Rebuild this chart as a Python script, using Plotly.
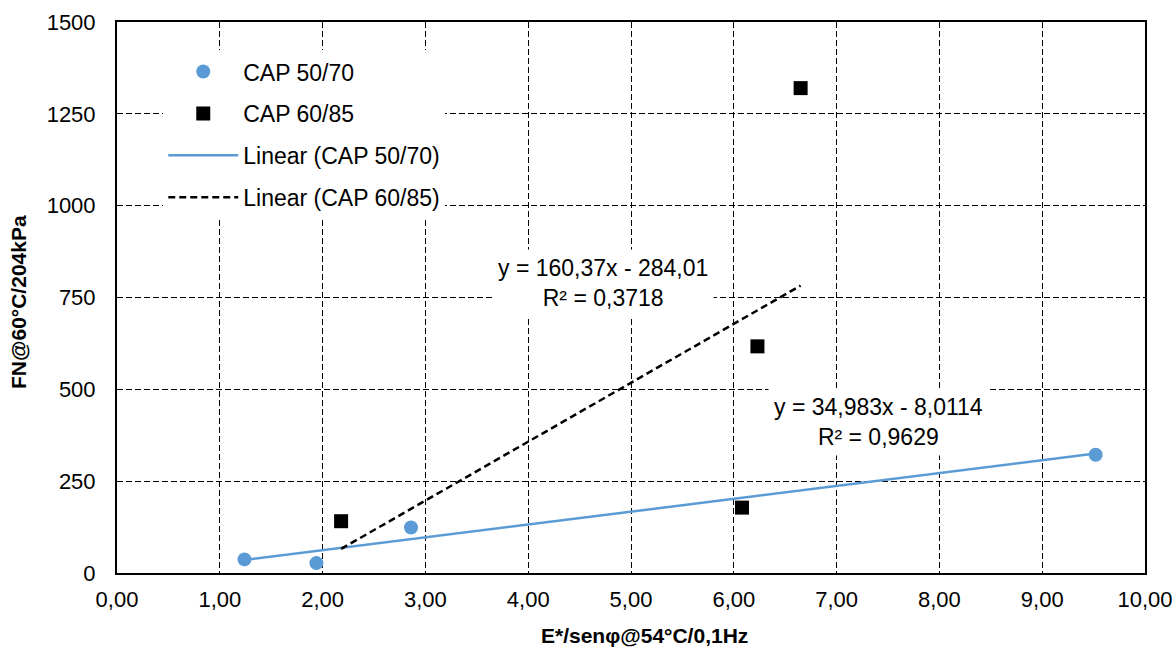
import plotly.graph_objects as go

# Data
x_5070 = [1.24, 1.94, 2.86, 9.52]
y_5070 = [37, 27, 124, 322]
x_6085 = [2.18, 6.08, 6.23, 6.65]
y_6085 = [141, 178, 617, 1320]

# Published trendline coefficients (slope, intercept, R²)
fit_5070 = [34.983, -8.0114, 0.9629]
fit_6085 = [160.37, -284.01, 0.3718]

x_ticks = [0, 1, 2, 3, 4, 5, 6, 7, 8, 9, 10]
y_ticks = [0, 250, 500, 750, 1000, 1250, 1500]

x_title = "E*/senφ@54°C/0,1Hz"
y_title = "FN@60°C/204kPa"

BLUE = "#5B9BD5"
FONT = "Liberation Sans, Arial, sans-serif"


def line_pts(xs, fit):
    xa = [min(xs), max(xs)]
    return xa, [fit[0] * v + fit[1] for v in xa]


def fmt(v, d):
    return f"{v:.{d}f}".replace(".", ",")


fig = go.Figure()

lx, ly = line_pts(x_5070, fit_5070)
fig.add_trace(go.Scatter(x=lx, y=ly, mode="lines", name="Linear (CAP 50/70)",
                         line=dict(color=BLUE, width=2.5), legendrank=3,
                         legendgroup="c"))
lx, ly = line_pts(x_6085, fit_6085)
fig.add_trace(go.Scatter(x=lx, y=ly, mode="lines", name="Linear (CAP 60/85)",
                         line=dict(color="black", width=2.5, dash="7px,4px"),
                         legendrank=4, legendgroup="d"))
fig.add_trace(go.Scatter(x=x_5070, y=y_5070, mode="markers", name="CAP 50/70",
                         marker=dict(color=BLUE, size=14, symbol="circle"),
                         legendrank=1, legendgroup="a"))
fig.add_trace(go.Scatter(x=x_6085, y=y_6085, mode="markers", name="CAP 60/85",
                         marker=dict(color="black", size=14, symbol="square"),
                         legendrank=2, legendgroup="b"))

ann_common = dict(showarrow=False, bgcolor="white", borderpad=5,
                  font=dict(family=FONT, size=23, color="black"), align="center")
fig.add_annotation(x=4.728, y=789,
                   text=f"y = {fmt(fit_6085[0], 2)}x - {fmt(-fit_6085[1], 2)}<br>R² = {fmt(fit_6085[2], 4)}",
                   **ann_common)
fig.add_annotation(x=7.41, y=412,
                   text=f"y = {fmt(fit_5070[0], 3)}x - {fmt(-fit_5070[1], 4)}<br>R² = {fmt(fit_5070[2], 4)}",
                   **ann_common)

# axis titles
fig.add_annotation(xref="paper", yref="paper", x=0.5136, y=0, yanchor="middle",
                   yshift=-62, showarrow=False, text=f"<b>{x_title}</b>",
                   font=dict(family=FONT, size=21, color="black"))
fig.add_annotation(xref="paper", yref="paper", x=0, y=0.4918, xanchor="center",
                   xshift=-99, showarrow=False, textangle=-90, text=f"<b>{y_title}</b>",
                   font=dict(family=FONT, size=21, color="black"))

axis_common = dict(showline=True, linecolor="black", linewidth=2, mirror=True,
                   showgrid=True, gridcolor="black", gridwidth=1, griddash="6px,3px",
                   zeroline=False, ticks="", automargin=False,
                   tickfont=dict(family=FONT, size=22, color="black"))

fig.update_xaxes(range=[0, 10], tickvals=x_ticks, tickformat=".2f",
                 ticklabelstandoff=6, **axis_common)
fig.update_yaxes(range=[0, 1500], tickvals=y_ticks, tickformat="d",
                 ticklabelstandoff=15, **axis_common)

fig.update_layout(
    width=1176, height=650,
    margin=dict(l=117, r=31, t=22, b=77),
    paper_bgcolor="white", plot_bgcolor="white",
    separators=",.",
    font=dict(family=FONT, size=22, color="black"),
    showlegend=True,
    legend=dict(x=0.045, y=0.949, xanchor="left", yanchor="top",
                bgcolor="white", borderwidth=0, itemwidth=70,
                traceorder="grouped", tracegroupgap=9,
                font=dict(family=FONT, size=23, color="black")),
)

fig.write_html(
    "out.html",
    config={"displayModeBar": False},
    post_script="document.body.style.margin='0';document.documentElement.style.overflow='hidden';",
)
